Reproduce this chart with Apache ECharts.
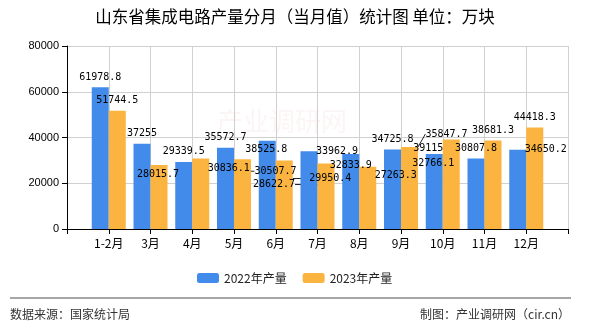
<!DOCTYPE html>
<html>
<head>
<meta charset="utf-8">
<script src="https://cdn.jsdelivr.net/npm/echarts@6/dist/echarts.min.js"></script>
<style>
html,body{margin:0;padding:0;background:#fff;}
#chart{width:590px;height:330px;}
</style>
</head>
<body>
<div id="chart"></div>
<script>
const categories = ['1-2月','3月','4月','5月','6月','7月','8月','9月','10月','11月','12月'];
const values2022 = [61978.8, 37255, 29339.5, 35572.7, 38525.8, 33962.9, 32833.9, 34725.8, 32766.1, 30807.8, 34650.2];
const values2023 = [51744.5, 28015.7, 30836.1, 30507.7, 29950.4, 28622.7, 27263.3, 35847.7, 39115, 38681.3, 44418.3];
const seriesNames = ['2022年产量','2023年产量'];
const yTicks = [0, 20000, 40000, 60000, 80000];

// label nudges (layout only, in px relative to the default label spot)
const labelShift2022 = [[0,0],[0,0],[0,0],[0,0],[-1,19],[28,10],[0,22],[0,0],[-1,19],[0,0],[28,10]];
const labelShift2023 = [[0,0],[-1,19],[28,20],[33,22],[46,28],[-52,31],[28,19],[37,-3],[-23,19],[0,0],[0,0]];
const shifts = [labelShift2022, labelShift2023];

const axisCats = [''].concat(categories, ['']);
function buildData(values, shift) {
  const items = values.map((v, i) => ({
    value: v,
    labelLine: {show: shift[i][0] !== 0 || shift[i][1] !== 0}
  }));
  return [null].concat(items, [null]);
}

const chart = echarts.init(document.getElementById('chart'), null, {renderer:'canvas'});
const labelStyle = {
  show: true, position: 'top', color: '#000',
  fontFamily: 'DejaVu Sans Mono', fontSize: 10
};
const lineStyle = {lineStyle: {color: '#222', width: 1}};
chart.setOption({
  animation: false,
  title: {
    text: '山东省集成电路产量分月（当月值）统计图 单位：万块',
    left: 'center', top: 3,
    textStyle: {fontSize: 16.5, fontWeight: 'normal', color: '#000', fontFamily: 'Noto Sans CJK SC'}
  },
  legend: {
    data: seriesNames, left: 192, top: 267,
    itemWidth: 22, itemHeight: 10, itemGap: 16,
    textStyle: {fontSize: 12, color: '#222', fontFamily: 'Noto Sans CJK SC'}
  },
  grid: {left: 67, right: 22, top: 46, bottom: 101, containLabel: false},
  xAxis: {
    type: 'category', data: axisCats, boundaryGap: false,
    axisLine: {lineStyle: {color: '#000'}},
    axisTick: {length: 5, lineStyle: {color: '#000'}},
    axisLabel: {color: '#000', fontSize: 12, margin: 8, fontFamily: 'Noto Sans CJK SC', interval: 0},
    splitLine: {show: true, lineStyle: {color: '#d0d0d0'}}
  },
  yAxis: {
    type: 'value', min: yTicks[0], max: yTicks[yTicks.length-1], interval: yTicks[1]-yTicks[0],
    axisLine: {show: true, lineStyle: {color: '#000'}},
    axisTick: {show: true, length: 5, lineStyle: {color: '#000'}},
    axisLabel: {color: '#000', fontSize: 11, margin: 8, formatter: v => String(v)},
    splitLine: {lineStyle: {color: '#d0d0d0'}}
  },
  labelLayout: function (params) {
    const s = shifts[params.seriesIndex] && shifts[params.seriesIndex][params.dataIndex - 1];
    if (!s) return {};
    return {dx: s[0], dy: s[1]};
  },
  series: [
    {name: seriesNames[0], type: 'bar', data: buildData(values2022, labelShift2022), barWidth: 17, barGap: '0%',
     itemStyle: {color: '#428bea'}, label: labelStyle, labelLine: lineStyle},
    {name: seriesNames[1], type: 'bar', data: buildData(values2023, labelShift2023), barWidth: 17,
     itemStyle: {color: '#fbb440'}, label: labelStyle, labelLine: lineStyle}
  ],
  graphic: [
    {type: 'text', left: 217, top: 108, z: -1, silent: true,
     style: {text: '产业调研网', fontSize: 26, fill: 'rgba(235,190,190,0.16)', fontFamily: 'Noto Sans CJK SC'}},
    {type: 'line', shape: {x1: 10, y1: 298, x2: 571, y2: 298}, style: {stroke: '#888', lineWidth: 1.5}},
    {type: 'text', left: 10, top: 308, style: {text: '数据来源：国家统计局', fontSize: 12, fill: '#333', fontFamily: 'Noto Sans CJK SC'}},
    {type: 'text', right: 20, top: 308, style: {text: '制图：产业调研网（cir.cn）', fontSize: 12, fill: '#333', fontFamily: 'Noto Sans CJK SC'}}
  ]
});
</script>
</body>
</html>
